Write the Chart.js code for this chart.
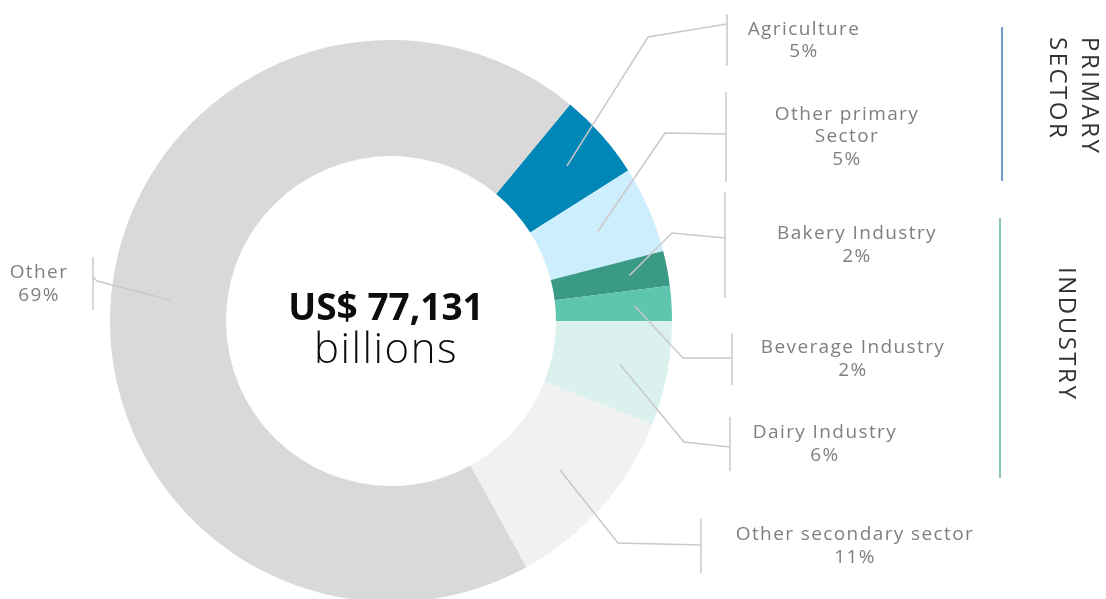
<!DOCTYPE html>
<html>
<head>
<meta charset="utf-8">
<script src="https://cdn.jsdelivr.net/npm/chart.js@4.4.1/dist/chart.umd.min.js"></script>
<style>
  html, body { margin:0; padding:0; background:#fff; overflow:hidden; }
  #wrap { position:relative; width:1106px; height:640px; }
</style>
</head>
<body>
<div id="wrap"><canvas id="donut" width="1106" height="640"></canvas></div>
<script>
// ── Data ───────────────────────────────────────────────────
const SECTORS = [
  ['Agriculture'],
  ['Other primary', 'Sector'],
  ['Bakery Industry'],
  ['Beverage Industry'],
  ['Dairy Industry'],
  ['Other secondary sector'],
  ['Other']
];
const SHARES = [5, 5, 2, 2, 6, 11, 69];
const COLORS = ['#0087b7', '#cdeffd', '#3a9a86', '#5ec5ae', '#dbf1ee', '#f1f1f1', '#d9d9d9'];
const TOTAL_TEXT = 'US$ 77,131';
const TOTAL_UNIT = 'billions';
const GROUPS = [['PRIMARY', 'SECTOR'], ['INDUSTRY']];

// ── Callout layout (anchor depth inside ring, elbow, bracket, text) ──
const CALLOUTS = [
  { depth:0.60, elbow:[648,37],  bx:727, by:[14,66],   hit:24,  tx:804, ty:[30,52] },
  { depth:0.52, elbow:[665,133], bx:726, by:[92,182],  hit:134, tx:847, ty:[115,137,160] },
  { depth:0.67, elbow:[672,233], bx:725, by:[192,298], hit:238, tx:857, ty:[234,257] },
  { depth:0.68, elbow:[683,358], bx:732, by:[333,385], hit:358, tx:853, ty:[348,371] },
  { depth:0.59, elbow:[684,442], bx:730, by:[417,471], hit:447, tx:825, ty:[433,456] },
  { depth:0.52, elbow:[618,543], bx:701, by:[519,573], hit:545, tx:855, ty:[535,558] },
  { depth:0.49, elbow:[97,281],  bx:93,  by:[257,310], hit:277, tx:39,  ty:[273,296] }
];

const LINE_GREY = '#c9c9c9';
const TEXT_GREY = '#7f7f7f';

const calloutPlugin = {
  id: 'callouts',
  afterDraw(chart) {
    const ctx = chart.ctx;
    const arcs = chart.getDatasetMeta(0).data;
    ctx.save();

    // leader lines + brackets
    ctx.strokeStyle = LINE_GREY;
    ctx.lineWidth = 1.5;
    arcs.forEach((arc, i) => {
      const c = CALLOUTS[i];
      const p = arc.getProps(['x','y','startAngle','endAngle','innerRadius','outerRadius'], true);
      const mid = (p.startAngle + p.endAngle) / 2;
      const r = p.innerRadius + c.depth * (p.outerRadius - p.innerRadius);
      ctx.beginPath();
      ctx.moveTo(p.x + Math.cos(mid) * r, p.y + Math.sin(mid) * r);
      ctx.lineTo(c.elbow[0], c.elbow[1]);
      ctx.lineTo(c.bx, c.hit);
      ctx.stroke();
      ctx.beginPath();
      ctx.moveTo(c.bx, c.by[0]);
      ctx.lineTo(c.bx, c.by[1]);
      ctx.stroke();
    });

    // labels
    ctx.fillStyle = TEXT_GREY;
    ctx.font = '400 19px "Open Sans"';
    ctx.letterSpacing = '1.4px';
    ctx.textAlign = 'center';
    ctx.textBaseline = 'middle';
    arcs.forEach((arc, i) => {
      const c = CALLOUTS[i];
      const lines = SECTORS[i].concat([SHARES[i] + '%']);
      lines.forEach((t, k) => ctx.fillText(t, c.tx, c.ty[k]));
    });

    // centre total
    const a0 = arcs[0];
    ctx.letterSpacing = '0px';
    ctx.fillStyle = '#0d0d0d';
    ctx.textBaseline = 'alphabetic';
    ctx.font = '700 37px "Open Sans"';
    ctx.fillText(TOTAL_TEXT, a0.x - 5, 320);
    ctx.font = '300 42px "Open Sans"';
    ctx.letterSpacing = '1.5px';
    ctx.fillText(TOTAL_UNIT, a0.x - 5, 363);

    // group markers on the right
    ctx.lineWidth = 1.5;
    ctx.strokeStyle = '#3f7db9';
    ctx.beginPath(); ctx.moveTo(1002, 27); ctx.lineTo(1002, 181); ctx.stroke();
    ctx.strokeStyle = '#5cb9a2';
    ctx.beginPath(); ctx.moveTo(1000, 218); ctx.lineTo(1000, 478); ctx.stroke();

    ctx.fillStyle = '#333';
    ctx.font = '400 24px "Open Sans"';
    ctx.letterSpacing = '2.5px';
    ctx.textAlign = 'left';
    ctx.textBaseline = 'middle';
    ctx.save();
    ctx.translate(1089, 37); ctx.rotate(Math.PI / 2);
    ctx.fillText(GROUPS[0][0], 0, 0);
    ctx.fillText(GROUPS[0][1], 0, 32);
    ctx.restore();
    ctx.save();
    ctx.translate(1066, 267); ctx.rotate(Math.PI / 2);
    ctx.fillText(GROUPS[1][0], 0, 0);
    ctx.restore();

    ctx.restore();
  }
};

new Chart(document.getElementById('donut'), {
  type: 'doughnut',
  data: {
    labels: SECTORS,
    datasets: [{ data: SHARES, backgroundColor: COLORS, borderWidth: 0, hoverOffset: 0 }]
  },
  options: {
    responsive: false,
    animation: false,
    devicePixelRatio: 1,
    rotation: 39.6,
    cutout: '58.7%',
    layout: { padding: { top: 40, bottom: 38, left: 110, right: 434 } },
    plugins: { legend: { display: false }, tooltip: { enabled: false } }
  },
  plugins: [calloutPlugin]
});
</script>
</body>
</html>
